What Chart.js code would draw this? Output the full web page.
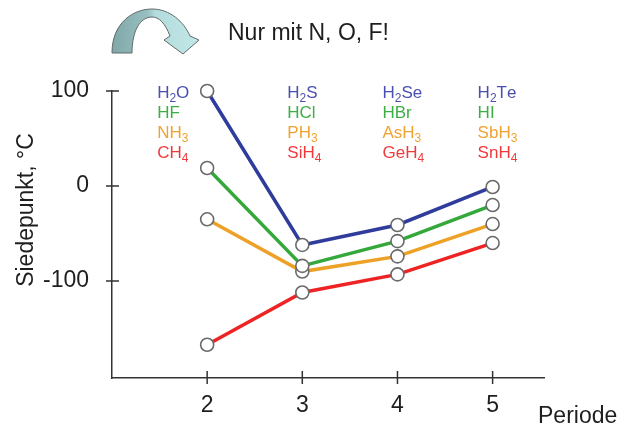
<!DOCTYPE html>
<html>
<head>
<meta charset="utf-8">
<script src="https://cdn.jsdelivr.net/npm/chart.js@4/dist/chart.umd.min.js"></script>
<style>
  html, body { margin: 0; padding: 0; background: #ffffff; }
  #wrap { width: 626px; height: 430px; position: relative; }
</style>
</head>
<body>
<div id="wrap"><canvas id="c" width="626" height="430"></canvas></div>
<script>
// Periods of the periodic table (x axis)
const periods = [2, 3, 4, 5];
const xTicks = [2, 3, 4, 5];
const yTicks = [100, 0, -100];

// Boiling points in °C per group of hydrides, periods 2..5
const group16 = [100, -62, -41, -1];     // H2O, H2S, H2Se, H2Te
const group17 = [19, -84, -58, -20];     // HF, HCl, HBr, HI
const group15 = [-35, -90, -74, -40];    // NH3, PH3, AsH3, SbH3
const group14 = [-167, -112, -93, -60];  // CH4, SiH4, GeH4, SnH4

// Formula labels (digits are drawn as subscripts)
const names16 = ['H2O', 'H2S', 'H2Se', 'H2Te'];
const names17 = ['HF', 'HCl', 'HBr', 'HI'];
const names15 = ['NH3', 'PH3', 'AsH3', 'SbH3'];
const names14 = ['CH4', 'SiH4', 'GeH4', 'SnH4'];

const titleText = 'Nur mit N, O, F!';
const yTitle = 'Siedepunkt, °C';
const xTitle = 'Periode';

const series = [
  { values: group16, names: names16, line: '#2f3c9c', text: '#4a4fb0' },
  { values: group17, names: names17, line: '#34a83a', text: '#3cae44' },
  { values: group15, names: names15, line: '#eda126', text: '#f0a332' },
  { values: group14, names: names14, line: '#ee2323', text: '#f03a3a' }
];

const FONT = '"Liberation Sans", Arial, sans-serif';
const INK = '#1e1e1e';

function drawFormula(ctx, text, x, y, size, color) {
  ctx.fillStyle = color;
  ctx.textBaseline = 'alphabetic';
  ctx.textAlign = 'left';
  let cx = x;
  for (const ch of text) {
    if (/[0-9]/.test(ch)) {
      ctx.font = Math.round(size * 0.68) + 'px ' + FONT;
      ctx.fillText(ch, cx, y + 4);
      cx += ctx.measureText(ch).width;
    } else {
      ctx.font = size + 'px ' + FONT;
      ctx.fillText(ch, cx, y);
      cx += ctx.measureText(ch).width;
    }
  }
}

function drawArrow(ctx) {
  ctx.save();
  const g = ctx.createLinearGradient(110, 0, 200, 0);
  g.addColorStop(0, '#7ea6a6');
  g.addColorStop(0.42, '#98c0c0');
  g.addColorStop(0.5, '#b4dcdc');
  g.addColorStop(1, '#c2e7e7');
  ctx.beginPath();
  ctx.moveTo(112, 53);
  ctx.bezierCurveTo(112, 22, 134, 9, 152, 9);
  ctx.bezierCurveTo(170, 9, 184, 22, 190, 36);
  ctx.lineTo(199, 40);
  ctx.lineTo(183, 54);
  ctx.lineTo(164, 40);
  ctx.lineTo(170, 36);
  ctx.bezierCurveTo(165, 23, 159, 17, 152, 17);
  ctx.bezierCurveTo(140, 17, 132, 31, 132, 53);
  ctx.closePath();
  ctx.fillStyle = g;
  ctx.fill();
  ctx.strokeStyle = '#5f6a6a';
  ctx.lineWidth = 1;
  ctx.stroke();
  ctx.restore();
}

const decor = {
  id: 'decor',
  afterDatasetsDraw(chart) {
    const ctx = chart.ctx;
    const xs = chart.scales.x, ys = chart.scales.y;
    ctx.save();
    // crossing tick marks
    ctx.strokeStyle = '#333333';
    ctx.lineWidth = 1.5;
    ctx.beginPath();
    xs.ticks.forEach(t => {
      const px = xs.getPixelForValue(t.value);
      ctx.moveTo(px, ys.bottom - 7);
      ctx.lineTo(px, ys.bottom + 6);
    });
    ys.ticks.forEach(t => {
      const py = ys.getPixelForValue(t.value);
      ctx.moveTo(xs.left - 6, py);
      ctx.lineTo(xs.left + 7, py);
    });
    ctx.stroke();

    // formula labels above each period
    series.forEach((s, row) => {
      s.names.forEach((n, i) => {
        const px = xs.getPixelForValue(periods[i]) + (i === 0 ? -50 : -15);
        drawFormula(ctx, n, px, 98 + row * 20, 17, s.text);
      });
    });

    // header text and arrow
    drawArrow(ctx);
    ctx.fillStyle = INK;
    ctx.font = '23px ' + FONT;
    ctx.textBaseline = 'alphabetic';
    ctx.textAlign = 'left';
    ctx.fillText(titleText, 228, 40);

    // axis titles
    ctx.fillText(xTitle, 538, 423);
    ctx.translate(33, 210);
    ctx.rotate(-Math.PI / 2);
    ctx.textAlign = 'center';
    ctx.fillText(yTitle, 0, 0);
    ctx.restore();
  }
};

const datasets = series.map(s => ({
  data: periods.map((p, i) => ({ x: p, y: s.values[i] })),
  borderColor: s.line,
  borderWidth: 3.5,
  pointRadius: 6.5,
  pointHoverRadius: 6.5,
  pointBackgroundColor: '#ffffff',
  pointBorderColor: '#6a6a6a',
  pointBorderWidth: 1.6,
  tension: 0,
  clip: false
}));

new Chart(document.getElementById('c'), {
  type: 'line',
  data: { datasets },
  options: {
    responsive: false,
    animation: false,
    devicePixelRatio: 1,
    layout: { padding: { top: 91, right: 82, left: 0, bottom: 0 } },
    plugins: { legend: { display: false }, tooltip: { enabled: false } },
    scales: {
      x: {
        type: 'linear',
        min: 1,
        max: 5.54,
        afterBuildTicks: sc => { sc.ticks = xTicks.map(v => ({ value: v })); },
        afterFit: sc => { sc.height = 52; },
        grid: { display: false },
        border: { display: true, color: '#333333', width: 1.5 },
        ticks: { color: INK, font: { family: FONT, size: 23 }, padding: 6, maxRotation: 0 }
      },
      y: {
        type: 'linear',
        min: -202,
        max: 100,
        afterBuildTicks: sc => { sc.ticks = yTicks.map(v => ({ value: v })); },
        afterFit: sc => { sc.width = 112; },
        grid: { display: false },
        border: { display: true, color: '#333333', width: 1.5 },
        ticks: { color: INK, font: { family: FONT, size: 23 }, padding: 15 }
      }
    }
  },
  plugins: [decor]
});
</script>
</body>
</html>
